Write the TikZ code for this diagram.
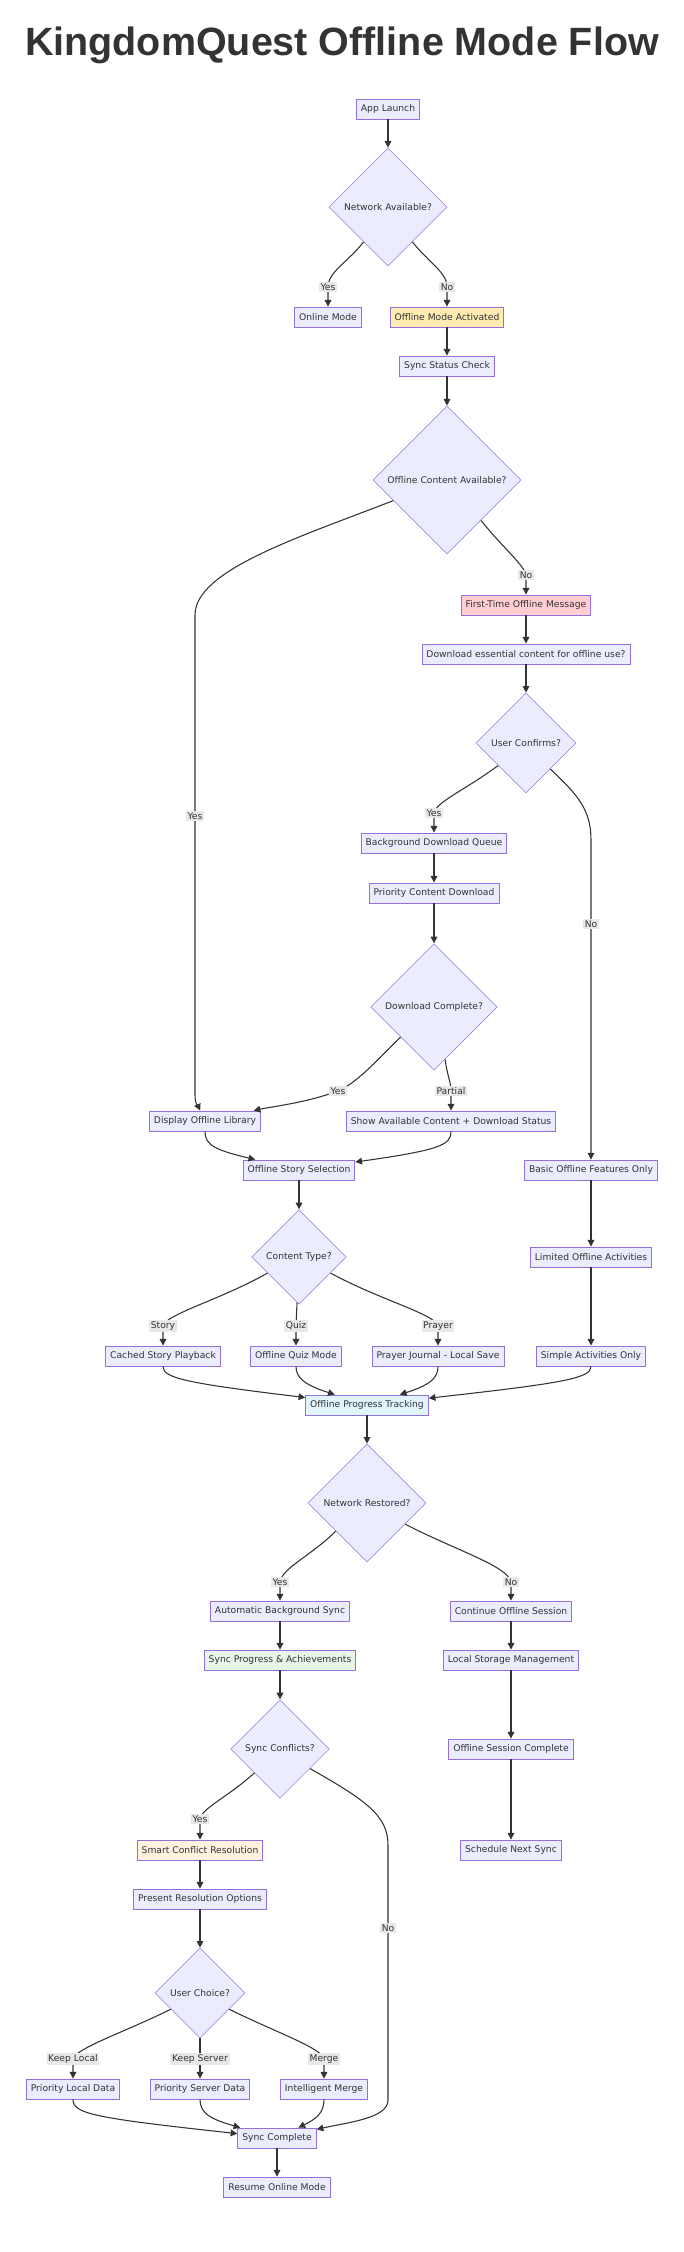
\documentclass[tikz,border=0pt]{standalone}
\usepackage{xcolor}
\usepackage{fontspec}
\setmainfont{DejaVu Sans}
\newfontfamily\headfont{Liberation Sans}
\usepackage{tikz}
\usetikzlibrary{shapes.geometric, arrows.meta}
\definecolor{mmfill}{RGB}{236,236,255}
\definecolor{mmline}{RGB}{147,112,219}
\definecolor{mmdark}{RGB}{51,51,51}
\definecolor{mmlabel}{RGB}{232,232,232}
\definecolor{fillamber}{RGB}{255,236,179}
\definecolor{fillpink}{RGB}{255,205,210}
\definecolor{fillblue}{RGB}{225,245,254}
\definecolor{fillgreen}{RGB}{232,245,233}
\definecolor{fillorange}{RGB}{255,243,224}
\tikzset{
  block/.style={rectangle, draw=mmline, fill=mmfill, text=mmdark, font=\fontsize{6.9}{8}\selectfont,
    minimum height=15pt, inner xsep=3.4pt, inner ysep=0pt, line width=0.65pt},
  decision/.style={diamond, aspect=1, draw=mmline!80, fill=mmfill, text=mmdark, font=\fontsize{6.9}{8}\selectfont,
    inner sep=0pt, minimum size=#1, line width=0.5pt},
  arrow/.style={-{Triangle[length=5pt, width=5pt]}, line width=0.8pt, color=mmdark},
  lbl/.style={fill=mmlabel, text=mmdark, font=\fontsize{6.9}{8}\selectfont, inner sep=1.2pt}
}

\begin{document}
\begin{tikzpicture}[x=0.75pt, y=0.75pt]
\useasboundingbox (0,0) rectangle (684,-2252);

\node[font={\headfont\fontsize{29.6}{34}\selectfont\bfseries}, text=mmdark, anchor=base] (title) at (342,-55) {KingdomQuest Offline Mode Flow};

% launch and offline detection
\node[block]                  (launch)    at (388,-109)  {App Launch};
\node[decision=88.5pt]        (netq)      at (388,-207)  {Network Available?};
\node[block]                  (online)    at (328,-317)  {Online Mode};
\node[block, fill=fillamber]  (offact)    at (447,-317)  {Offline Mode Activated};
\node[block]                  (syncchk)   at (447,-366)  {Sync Status Check};
\node[decision=111pt]         (contq)     at (447,-480)  {Offline Content Available?};
\node[block, fill=fillpink]   (firsttime) at (526,-605)  {First-Time Offline Message};
\node[block]                  (dlprompt)  at (526,-654)  {Download essential content for offline use?};
\node[decision=75pt]          (confirmq)  at (526,-743)  {User Confirms?};
\node[block]                  (bgqueue)   at (434,-843)  {Background Download Queue};
\node[block]                  (priodl)    at (434,-893)  {Priority Content Download};
\node[decision=95pt]          (dlq)       at (434,-1007) {Download Complete?};
\node[block]                  (library)   at (205,-1121) {Display Offline Library};
\node[block]                  (partial)   at (451,-1121) {Show Available Content + Download Status};
\node[block]                  (storysel)  at (299,-1170) {Offline Story Selection};
\node[block]                  (basic)     at (591,-1170) {Basic Offline Features Only};

% content while offline
\node[decision=71pt]          (typeq)     at (299,-1257) {Content Type?};
\node[block]                  (limited)   at (591,-1257) {Limited Offline Activities};
\node[block]                  (cached)    at (163,-1356) {Cached Story Playback};
\node[block]                  (quiz)      at (296,-1356) {Offline Quiz Mode};
\node[block]                  (prayer)    at (438,-1356) {Prayer Journal - Local Save};
\node[block]                  (simple)    at (591,-1356) {Simple Activities Only};
\node[block, fill=fillblue]   (tracking)  at (367,-1405) {Offline Progress Tracking};

% reconnect and sync
\node[decision=88.5pt]        (restq)     at (367,-1503) {Network Restored?};
\node[block]                  (autosync)  at (280,-1611) {Automatic Background Sync};
\node[block]                  (contsess)  at (511,-1611) {Continue Offline Session};
\node[block, fill=fillgreen]  (syncprog)  at (280,-1660) {Sync Progress \& Achievements};
\node[block]                  (localstore) at (511,-1660) {Local Storage Management};
\node[decision=74pt]          (conflq)    at (280,-1749) {Sync Conflicts?};
\node[block]                  (sesscomp)  at (511,-1749) {Offline Session Complete};
\node[block, fill=fillorange] (smart)     at (200,-1850) {Smart Conflict Resolution};
\node[block]                  (schedule)  at (511,-1850) {Schedule Next Sync};
\node[block]                  (present)   at (200,-1899) {Present Resolution Options};
\node[decision=67.5pt]        (choiceq)   at (200,-1993) {User Choice?};
\node[block]                  (prlocal)   at (73,-2089)  {Priority Local Data};
\node[block]                  (prserver)  at (200,-2089) {Priority Server Data};
\node[block]                  (merge)     at (324,-2089) {Intelligent Merge};
\node[block]                  (synccomp)  at (277,-2138) {Sync Complete};
\node[block]                  (resume)    at (277,-2187) {Resume Online Mode};

% connectors
\draw[arrow] (launch) -- (netq);
\draw[arrow] (netq.-125) .. controls (348,-262) and (328,-272) .. (328,-287) node[lbl] {Yes} -- (online);
\draw[arrow] (netq.-55) .. controls (428,-262) and (447,-272) .. (447,-287) node[lbl] {No} -- (offact);
\draw[arrow] (offact) -- (syncchk);
\draw[arrow] (syncchk) -- (contq);
\draw[arrow] (contq.-159) .. controls (300,-537) and (195,-570) .. (195,-615) -- (195,-816) node[lbl] {Yes}
  -- (195,-1095) .. controls (195,-1105) and (199,-1108) .. (library);
\draw[arrow] (contq.-50) .. controls (505,-550) and (524,-565) .. (526,-575) node[lbl] {No} -- (firsttime);
\draw[arrow] (firsttime) -- (dlprompt);
\draw[arrow] (dlprompt) -- (confirmq);
\draw[arrow] (confirmq.-141) .. controls (465,-790) and (436,-802) .. (434,-813) node[lbl] {Yes} -- (bgqueue);
\draw[arrow] (confirmq.-47) .. controls (578,-795) and (591,-810) .. (591,-840) -- (591,-924) node[lbl] {No} -- (basic);
\draw[arrow] (bgqueue) -- (priodl);
\draw[arrow] (priodl) -- (dlq);
\draw[arrow] (dlq.-138) .. controls (375,-1062) and (358,-1082) .. (338,-1091) node[lbl] {Yes}
  .. controls (305,-1103) and (275,-1106) .. (library);
\draw[arrow] (dlq.-78) .. controls (447,-1075) and (451,-1082) .. (451,-1091) node[lbl] {Partial} -- (partial);
\draw[arrow] (library) .. controls (205,-1145) and (215,-1150) .. (storysel);
\draw[arrow] (partial) .. controls (451,-1145) and (440,-1150) .. (storysel);
\draw[arrow] (storysel) -- (typeq);
\draw[arrow] (basic) -- (limited);
\draw[arrow] (limited) -- (simple);

\draw[arrow] (typeq.-153) .. controls (220,-1300) and (166,-1314) .. (163,-1326) node[lbl] {Story} -- (cached);
\draw[arrow] (typeq) -- (296,-1326) node[lbl] {Quiz} -- (quiz);
\draw[arrow] (typeq.-27) .. controls (380,-1300) and (435,-1314) .. (438,-1326) node[lbl] {Prayer} -- (prayer);
\draw[arrow] (cached) .. controls (163,-1378) and (185,-1383) .. (tracking);
\draw[arrow] (quiz) .. controls (296,-1378) and (305,-1385) .. (tracking);
\draw[arrow] (prayer) .. controls (438,-1378) and (430,-1385) .. (tracking);
\draw[arrow] (simple) .. controls (591,-1378) and (565,-1383) .. (tracking);
\draw[arrow] (tracking) -- (restq);

\draw[arrow] (restq.-138) .. controls (312,-1555) and (282,-1568) .. (280,-1582) node[lbl] {Yes} -- (autosync);
\draw[arrow] (restq.-29) .. controls (455,-1550) and (508,-1566) .. (511,-1582) node[lbl] {No} -- (contsess);
\draw[arrow] (autosync) -- (syncprog);
\draw[arrow] (syncprog) -- (conflq);
\draw[arrow] (contsess) -- (localstore);
\draw[arrow] (localstore) -- (sesscomp);
\draw[arrow] (sesscomp) -- (schedule);
\draw[arrow] (conflq.-137) .. controls (228,-1797) and (202,-1808) .. (200,-1819) node[lbl] {Yes} -- (smart);
\draw[arrow] (conflq.-33) .. controls (365,-1800) and (388,-1815) .. (388,-1845) -- (388,-1928) node[lbl] {No}
  -- (388,-2100) .. controls (388,-2118) and (350,-2122) .. (synccomp);
\draw[arrow] (smart) -- (present);
\draw[arrow] (present) -- (choiceq);
\draw[arrow] (choiceq.-151) .. controls (125,-2032) and (76,-2048) .. (73,-2059) node[lbl] {Keep Local} -- (prlocal);
\draw[arrow] (choiceq) -- (200,-2059) node[lbl] {Keep Server} -- (prserver);
\draw[arrow] (choiceq.-29) .. controls (275,-2032) and (322,-2048) .. (324,-2059) node[lbl] {Merge} -- (merge);
\draw[arrow] (prlocal) .. controls (73,-2114) and (95,-2118) .. (synccomp);
\draw[arrow] (prserver) .. controls (200,-2113) and (210,-2119) .. (synccomp);
\draw[arrow] (merge) .. controls (324,-2113) and (316,-2119) .. (synccomp);
\draw[arrow] (synccomp) -- (resume);
\end{tikzpicture}
\end{document}
